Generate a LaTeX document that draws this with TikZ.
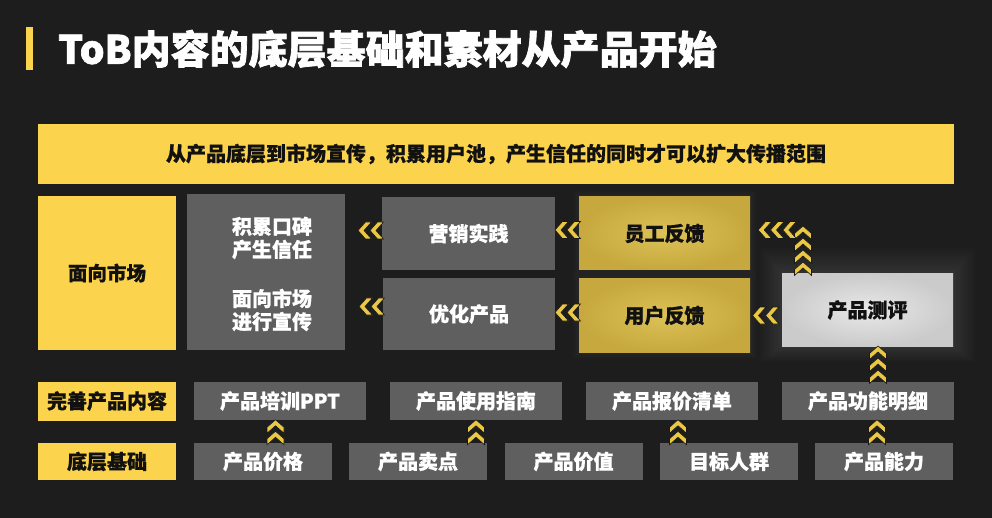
\documentclass[tikz,border=0pt]{standalone}
\usepackage{fontspec}
\setmainfont{Noto Sans CJK SC}[BoldFeatures={FakeBold=0.8}]
\newfontfamily\heavy{Noto Sans CJK SC}[BoldFeatures={FakeBold=1.8}]
\usetikzlibrary{decorations.markings,calc,backgrounds}
\definecolor{bgc}{HTML}{1D1D1D}
\definecolor{ylw}{HTML}{FBD34C}
\definecolor{gry}{HTML}{5F5F5F}
\definecolor{goldin}{HTML}{DCC257}
\definecolor{goldout}{HTML}{C6A83E}
\definecolor{litein}{HTML}{E8E8E8}
\definecolor{liteout}{HTML}{CBCBCB}
\definecolor{chevy}{HTML}{EBC843}
\definecolor{ink}{HTML}{111111}
\newcommand\mychev{\filldraw[fill=chevy, draw=black!90, line width=0.6pt, line join=miter] (6pt,0pt)--(-1.5pt,8.5pt)--(-7.5pt,8.5pt)--(0pt,0pt)--(-7.5pt,-8.5pt)--(-1.5pt,-8.5pt)--cycle;}
\tikzset{
  box/.style={rectangle, inner sep=0pt, outer sep=0pt, align=center,
    font=\bfseries\fontsize{20}{23}\selectfont},
  ybox/.style={box, fill=ylw, text=ink},
  gbox/.style={box, fill=gry, text=white},
  goldbox/.style={box, inner color=goldin, outer color=goldout, text=ink},
  litebox/.style={box, inner color=litein, outer color=liteout, text=ink},
  txt/.style={inner sep=0pt, align=center, text=white, font=\bfseries\fontsize{20}{23}\selectfont},
  chevtwo/.style={postaction={decorate, decoration={markings, mark=between positions 0.25 and 1 step 0.5 with {\mychev}}}},
  chevthree/.style={postaction={decorate, decoration={markings, mark=between positions 0.1667 and 1 step 0.3333 with {\mychev}}}},
  chevfour/.style={postaction={decorate, decoration={markings, mark=between positions 0.125 and 1 step 0.25 with {\mychev}}}},
}
\begin{document}
\begin{tikzpicture}[x=1pt,y=-1pt]
\useasboundingbox (0,0) rectangle (992,518);
\begin{scope}[on background layer]
  \fill[bgc] (0,0) rectangle (992,518);
\end{scope}

% title
\node[fill=ylw, minimum width=7pt, minimum height=43pt, inner sep=0pt] (tbar) at (29.5,48.5) {};
\node[anchor=west, inner sep=0pt, text=white, font=\heavy\bfseries\fontsize{39}{42}\selectfont] (title) at (58,49) {ToB内容的底层基础和素材从产品开始};

% banner
\node[ybox, minimum width=916pt, minimum height=60pt, font=\bfseries\fontsize{20}{24}\selectfont] (banner) at (496,154) {从产品底层到市场宣传，积累用户池，产生信任的同时才可以扩大传播范围};

% middle block
\node[ybox, minimum width=138pt, minimum height=153pt, font=\bfseries\fontsize{19.5}{23}\selectfont] (mkt) at (107,273) {面向市场};
\node[gbox, minimum width=158pt, minimum height=156pt] (wom) at (266,272) {};
\node[txt] (womA) at (272,238) {积累口碑\\产生信任};
\node[txt] (womB) at (272,310) {面向市场\\进行宣传};
\node[gbox, minimum width=173pt, minimum height=73pt] (ms) at (468.5,233.5) {营销实践};
\node[gbox, minimum width=172pt, minimum height=72pt] (op) at (469,314) {优化产品};
\node[goldbox, minimum width=171pt, minimum height=73pt] (ee) at (664.5,233.5) {员工反馈};
\node[goldbox, minimum width=171pt, minimum height=73pt] (uf) at (664.5,315.5) {用户反馈};
\node[litebox, minimum width=171pt, minimum height=72pt] (eval) at (867.5,310) {产品测评};

% row 3
\node[ybox, minimum width=138pt, minimum height=39pt] (c1) at (107,401) {完善产品内容};
\node[gbox, minimum width=172pt, minimum height=38pt] (ppt) at (280,401) {产品培训PPT};
\node[gbox, minimum width=172pt, minimum height=38pt] (guide) at (476,401) {产品使用指南};
\node[gbox, minimum width=172pt, minimum height=38pt] (quote) at (672,401) {产品报价清单};
\node[gbox, minimum width=172pt, minimum height=38pt] (func) at (868,401) {产品功能明细};

% row 4
\node[ybox, minimum width=138pt, minimum height=37pt] (b1) at (107,461.5) {底层基础};
\node[gbox, minimum width=138pt, minimum height=37pt] (price) at (263,461.5) {产品价格};
\node[gbox, minimum width=138pt, minimum height=37pt] (sp) at (418,461.5) {产品卖点};
\node[gbox, minimum width=138pt, minimum height=37pt] (val) at (573.5,461.5) {产品价值};
\node[gbox, minimum width=138pt, minimum height=37pt] (aud) at (729,461.5) {目标人群};
\node[gbox, minimum width=138pt, minimum height=37pt] (cap) at (884,461.5) {产品能力};

% glows
\begin{scope}[on background layer]
  \foreach \i in {1,...,10}{
    \fill[white, opacity=0.012] ($(eval.south west)+(-2.2*\i,1.6*\i)$) rectangle ($(eval.north east)+(2.2*\i,-2.6*\i)$);
  }
  \foreach \n in {ee,uf}{
    \foreach \i in {1,...,4}{
      \fill[white, opacity=0.01] ($(\n.south west)+(-1.5*\i,1.5*\i)$) rectangle ($(\n.north east)+(1.5*\i,-1.5*\i)$);
    }
  }
\end{scope}

% chevron connectors
\path[chevtwo] ([yshift=3pt]ms.west) -- ([xshift=-24pt,yshift=3pt]ms.west);
\path[chevtwo] ([yshift=7.5pt]op.west) -- ([xshift=-24pt,yshift=7.5pt]op.west);
\path[chevtwo] ([yshift=3.5pt]ee.west) -- ([yshift=3.5pt]ee.west -| ms.east);
\path[chevtwo] ([yshift=3pt]uf.west) -- ([yshift=3pt]uf.west -| op.east);
\path[chevtwo] ([xshift=-4pt]eval.west |- uf.east) -- ([xshift=2pt]uf.east);
\path[chevfour] ([xshift=-64.5pt]eval.north) -- ([xshift=-64.5pt,yshift=48pt]eval.north);
\path[chevthree] ([xshift=45pt,yshift=3.5pt]ee.east) -- ([xshift=8pt,yshift=3.5pt]ee.east);
\path[chevthree] ([xshift=10pt]func.north) -- ([xshift=10pt]func.north |- eval.south);
\path[chevtwo] ([xshift=-4.5pt]ppt.south |- price.north) -- ([xshift=-4.5pt]ppt.south);
\path[chevtwo] (guide.south |- sp.north) -- (guide.south);
\path[chevtwo] ([xshift=6pt]quote.south |- aud.north) -- ([xshift=6pt]quote.south);
\path[chevtwo] ([xshift=9pt]func.south |- cap.north) -- ([xshift=9pt]func.south);
\end{tikzpicture}
\end{document}
